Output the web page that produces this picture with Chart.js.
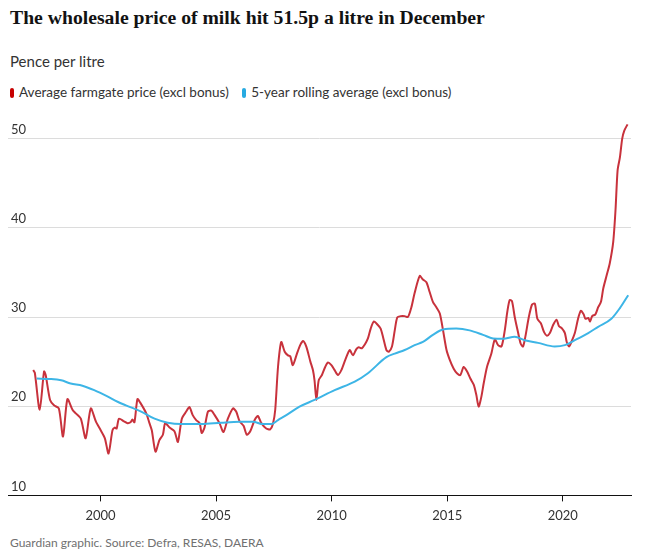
<!DOCTYPE html>
<html>
<head>
  <meta charset="utf-8">
  <title>Milk price</title>
  <script src="https://cdn.jsdelivr.net/npm/chart.js"></script>
  <style>
    body {
      margin: 0;
      width: 645px;
      height: 552px;
      background: #fff;
      position: relative;
      overflow: hidden;
      font-family: Lato, sans-serif;
      color: #333;
    }
    .title {
      position: absolute;
      left: 10px;
      top: 6px;
      font-family: "Liberation Serif", serif;
      font-weight: bold;
      font-size: 19.7px;
      color: #121212;
      white-space: nowrap;
    }
    .subtitle {
      position: absolute;
      left: 10px;
      top: 52px;
      font-size: 15px;
      color: #333;
    }
    .legend {
      position: absolute;
      left: 10px;
      top: 84px;
      font-size: 13.5px;
      color: #333;
      white-space: nowrap;
    }
    .legend span.key {
      display: inline-block;
      width: 4px;
      height: 10px;
      border-radius: 2px;
      margin-right: 5px;
      vertical-align: -1px;
    }
    .legend .item { margin-right: 10px; }
    .chart-box {
      position: absolute;
      left: 0;
      top: 110px;
      width: 645px;
      height: 425px;
    }
    .footer {
      position: absolute;
      left: 10px;
      top: 535px;
      font-size: 12px;
      color: #707070;
    }
  </style>
</head>
<body>
  <div class="title">The wholesale price of milk hit 51.5p a litre in December</div>
  <div class="subtitle">Pence per litre</div>
  <div class="legend">
    <span class="item"><span class="key" style="background:#c70000"></span>Average farmgate price (excl bonus)</span>
    <span class="item"><span class="key" style="background:#27aae1"></span>5-year rolling average (excl bonus)</span>
  </div>
  <div class="chart-box"><canvas id="milkChart"></canvas></div>
  <div class="footer">Guardian graphic. Source: Defra, RESAS, DAERA</div>

  <script>
    // farmgate price (decimal year, pence per litre)
    const farmgateYears = [
      1997.09, 1997.16, 1997.37, 1997.56, 1997.63, 1997.82, 1997.99, 1998.20, 1998.38, 1998.57,
      1998.79, 1998.93, 1999.15, 1999.36, 1999.58, 1999.80, 2000.01, 2000.19, 2000.35, 2000.52,
      2000.62, 2000.70, 2000.80, 2001.02, 2001.17, 2001.30, 2001.38, 2001.47, 2001.60, 2001.72,
      2001.98, 2002.12, 2002.22, 2002.38, 2002.55, 2002.70, 2002.80, 2002.99, 2003.20, 2003.35,
      2003.52, 2003.71, 2003.85, 2003.99, 2004.14, 2004.29, 2004.38, 2004.50, 2004.65, 2004.80,
      2004.94, 2005.15, 2005.32, 2005.51, 2005.73, 2005.87, 2006.02, 2006.19, 2006.33, 2006.48,
      2006.67, 2006.81, 2006.96, 2007.17, 2007.34, 2007.46, 2007.56, 2007.68, 2007.82, 2007.97,
      2008.11, 2008.21, 2008.32, 2008.50, 2008.64, 2008.76, 2008.90, 2009.08, 2009.19, 2009.26,
      2009.34, 2009.44, 2009.58, 2009.72, 2009.84, 2009.99, 2010.13, 2010.27, 2010.42, 2010.59,
      2010.78, 2010.92, 2011.07, 2011.17, 2011.31, 2011.43, 2011.57, 2011.69, 2011.83, 2012.00,
      2012.12, 2012.22, 2012.37, 2012.47, 2012.61, 2012.73, 2012.84, 2012.99, 2013.16, 2013.30,
      2013.45, 2013.59, 2013.81, 2013.95, 2014.10, 2014.24, 2014.38, 2014.53, 2014.68, 2014.82,
      2014.97, 2015.11, 2015.28, 2015.42, 2015.57, 2015.71, 2015.86, 2016.00, 2016.15, 2016.26,
      2016.36, 2016.48, 2016.58, 2016.72, 2016.91, 2017.06, 2017.20, 2017.35, 2017.49, 2017.60,
      2017.70, 2017.80, 2017.92, 2018.07, 2018.18, 2018.28, 2018.38, 2018.53, 2018.67, 2018.79,
      2018.90, 2019.05, 2019.19, 2019.31, 2019.44, 2019.58, 2019.73, 2019.83, 2019.97, 2020.09,
      2020.17, 2020.27, 2020.37, 2020.52, 2020.66, 2020.78, 2020.90, 2020.98, 2021.10, 2021.18,
      2021.27, 2021.41, 2021.53, 2021.65, 2021.75, 2021.90, 2022.03, 2022.18, 2022.28, 2022.37,
      2022.47, 2022.57, 2022.66, 2022.80
    ];
    const farmgatePence = [
      24.05, 23.75, 19.6, 23.9, 23.5, 20.7, 20.1, 19.75, 16.6, 20.8,
      19.6, 19.2, 18.6, 16.4, 19.75, 18.3, 17.3, 16.4, 14.7, 17.3,
      17.6, 17.5, 18.6, 18.3, 18.1, 18.2, 18.5, 18.2, 20.8, 20.4,
      19.2, 18.1, 17.3, 14.9, 16.2, 16.8, 18.1, 17.6, 17.2, 16.0,
      18.6, 19.4, 19.9, 19.0, 18.45, 18.1, 17.0, 17.6, 19.4, 19.5,
      19.0, 18.1, 17.1, 18.6, 19.75, 19.4, 18.3, 17.8, 16.8, 17.2,
      18.45, 18.9, 18.1, 17.5, 17.4, 18.0, 19.6, 24.4, 27.2, 26.1,
      25.7, 25.6, 24.6, 25.9, 26.85, 27.3, 26.7, 25.0, 24.05, 22.9,
      20.7, 22.9, 23.5, 24.4, 24.9, 24.6, 24.05, 23.5, 24.05, 25.2,
      26.3, 25.7, 26.4, 26.6, 26.5, 26.9, 27.6, 28.7, 29.5, 29.1,
      28.7, 27.8, 26.3, 26.1, 26.7, 28.5, 29.95, 30.1, 30.1, 30.0,
      31.1, 32.7, 34.6, 34.2, 33.9, 32.8, 31.7, 31.1, 30.4, 28.5,
      26.3, 25.2, 24.2, 23.7, 23.5, 24.4, 23.9, 23.1, 22.4, 21.25,
      19.95, 21.1, 22.6, 24.4, 25.9, 27.5, 26.85, 26.7, 28.5, 30.6,
      31.9, 31.8, 30.0, 28.2, 27.0, 26.7, 27.8, 30.0, 31.4, 31.5,
      29.8, 29.3, 28.3, 27.9, 28.2, 29.1, 29.7, 29.0, 28.7, 28.2,
      27.2, 26.7, 27.2, 28.2, 29.8, 30.7, 30.3, 29.8, 29.9, 29.5,
      30.1, 30.3, 31.1, 31.7, 33.2, 34.7, 36.0, 38.4, 42.0, 46.45,
      47.9, 50.0, 50.9, 51.6
    ];

    // 5-year rolling average
    const averageYears = [
      1997.24, 1997.80, 1998.30, 1998.71, 1999.22, 1999.73, 2000.30, 2000.74, 2001.10, 2001.76,
      2002.34, 2002.91, 2003.49, 2004.36, 2005.22, 2006.02, 2006.60, 2007.03, 2007.39, 2007.68,
      2008.04, 2008.61, 2009.26, 2010.13, 2011.00, 2011.57, 2012.37, 2012.73, 2013.16, 2013.59,
      2013.95, 2014.38, 2014.82, 2015.39, 2015.97, 2016.55, 2016.98, 2017.42, 2017.92, 2018.35,
      2018.93, 2019.65, 2020.09, 2020.52, 2021.10, 2021.53, 2022.10, 2022.47, 2022.83
    ];
    const averagePence = [
      23.1, 23.05, 22.9, 22.55, 22.3, 21.8, 21.1, 20.5, 20.1, 19.4,
      18.6, 18.15, 18.0, 18.0, 18.15, 18.25, 18.25, 18.0, 18.0, 18.45,
      19.0, 19.95, 20.7, 21.8, 22.75, 23.7, 25.5, 25.9, 26.3, 26.85,
      27.2, 28.0, 28.6, 28.7, 28.5, 28.0, 27.6, 27.55, 27.8, 27.4,
      27.1, 26.7, 26.85, 27.4, 28.2, 28.9, 29.8, 31.0, 32.45
    ];

    const yearTicks = [2000, 2005, 2010, 2015, 2020];
    const penceTicks = [10, 20, 30, 40, 50];

    const toPoints = (xs, ys) => xs.map((x, i) => ({ x: x, y: ys[i] }));

    const ctx = document.getElementById('milkChart').getContext('2d');
    new Chart(ctx, {
      type: 'line',
      data: {
        datasets: [
          {
            label: '5-year rolling average (excl bonus)',
            data: toPoints(averageYears, averagePence),
            borderColor: '#3db5e6',
            borderWidth: 2,
            pointRadius: 0,
            cubicInterpolationMode: 'monotone',
            fill: false
          },
          {
            label: 'Average farmgate price (excl bonus)',
            data: toPoints(farmgateYears, farmgatePence),
            borderColor: '#c8323c',
            borderWidth: 2,
            pointRadius: 0,
            tension: 0.25,
            fill: false
          }
        ]
      },
      options: {
        responsive: true,
        maintainAspectRatio: false,
        animation: false,
        layout: { padding: { left: 2, right: 14, top: 10, bottom: 4 } },
        plugins: {
          legend: { display: false },
          tooltip: { enabled: false }
        },
        scales: {
          x: {
            type: 'linear',
            min: 1996.0,
            max: 2022.95,
            afterBuildTicks: scale => { scale.ticks = yearTicks.map(v => ({ value: v })); },
            border: { display: true, color: '#121212', width: 1 },
            grid: { drawOnChartArea: false, drawTicks: true, tickLength: 6, color: '#121212' },
            ticks: {
              padding: 7,
              color: '#333',
              font: { family: 'Lato', size: 13 },
              callback: v => String(v)
            }
          },
          y: {
            min: 10,
            max: 52,
            afterBuildTicks: scale => { scale.ticks = penceTicks.map(v => ({ value: v })); },
            border: { display: false },
            grid: { drawTicks: false, color: '#dcdcdc' },
            ticks: {
              mirror: true,
              padding: 3,
              labelOffset: -9,
              color: '#333',
              font: { family: 'Lato', size: 13 }
            }
          }
        }
      }
    });
  </script>
</body>
</html>
